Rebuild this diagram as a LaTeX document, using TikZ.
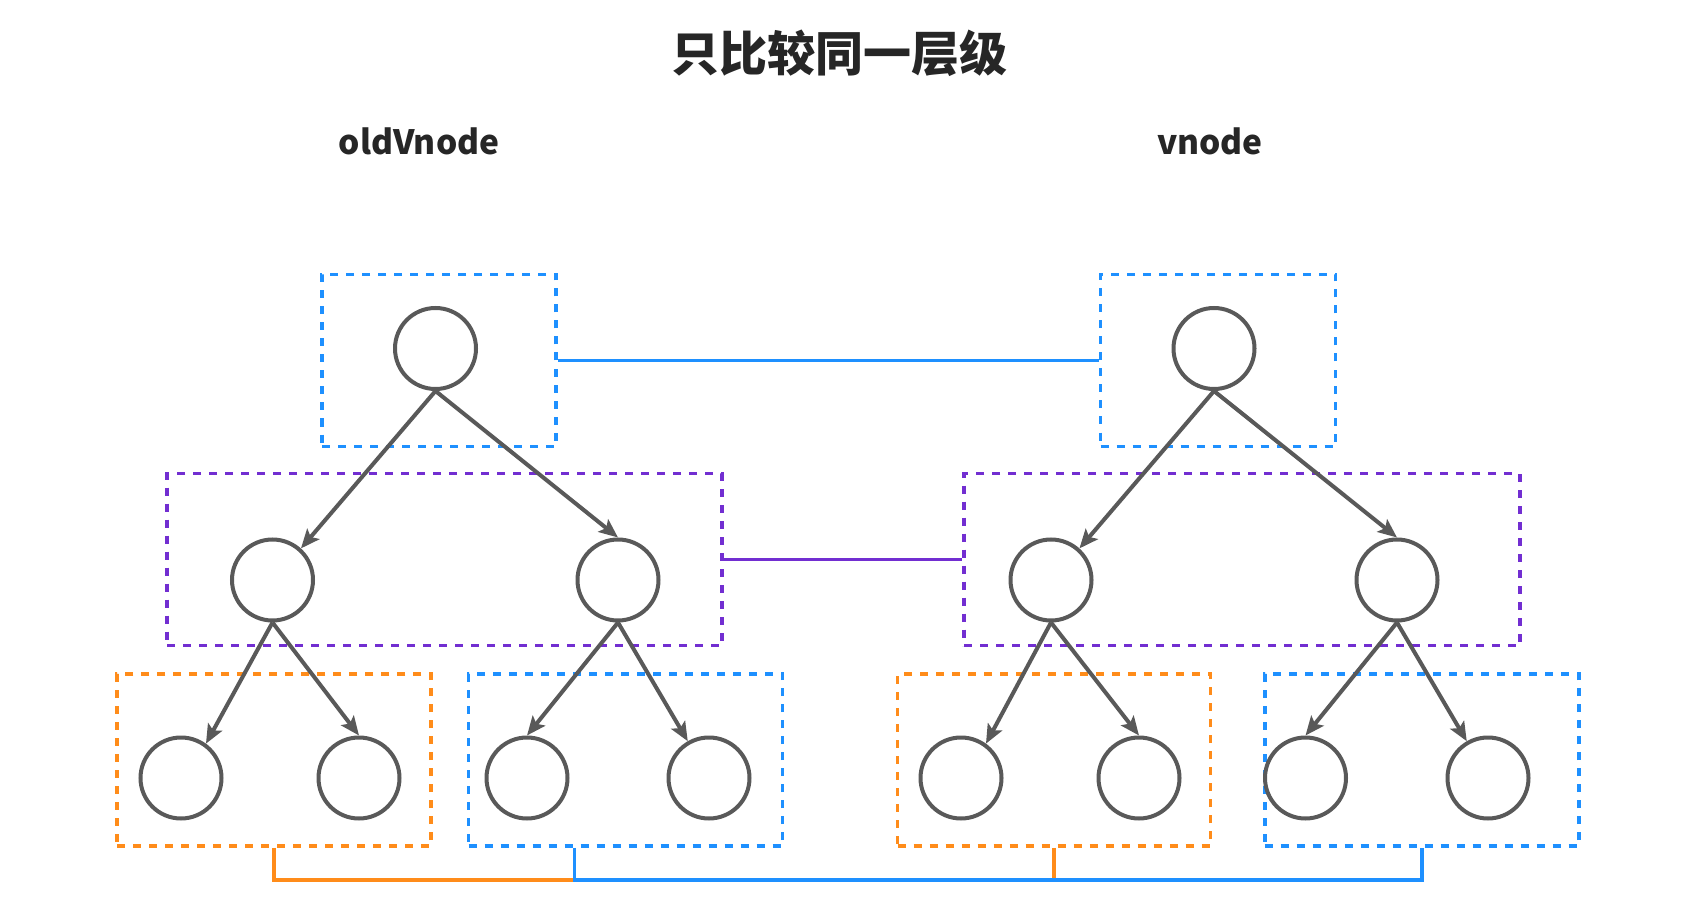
\documentclass[tikz,border=0pt]{standalone}
\usepackage{fontspec}
\newfontfamily\cjk{Noto Sans CJK SC}
\usetikzlibrary{arrows.meta,calc}
\definecolor{cblue}{RGB}{30,144,255}
\definecolor{cpurple}{RGB}{114,46,209}
\definecolor{corange}{RGB}{255,140,26}
\definecolor{cgray}{RGB}{89,89,89}
\definecolor{ctext}{RGB}{38,38,38}
\begin{document}
\begin{tikzpicture}[x=1pt,y=-1pt,
  treenode/.style={circle,draw=cgray,line width=4pt,minimum size=81pt,inner sep=0pt},
  grp/.style={rectangle,draw,line width=3.8pt,dash pattern=on 8pt off 8pt,minimum height=172pt,inner sep=0pt},
  topgrp/.style={grp,draw=cblue,minimum width=234pt},
  midgrp/.style={grp,draw=cpurple,minimum width=555pt},
  orgrp/.style={grp,draw=corange,minimum width=314pt},
  blgrp/.style={grp,draw=cblue,minimum width=314pt},
  link/.style={line width=3.8pt},
  arr/.style={draw=cgray,line width=4pt,-{Stealth[length=19pt,width=16pt,inset=4pt]}},
  label/.style={anchor=base,text=ctext,font=\cjk\bfseries\fontsize{33.5}{37}\selectfont},
  ]
\useasboundingbox (0,0) rectangle (1682,909);
\node[anchor=base,text=ctext,font=\cjk\bfseries\fontsize{48}{52}\selectfont] (title) at (839,72) {只比较同一层级};
\node[label] (lold) at (419,154.5) {oldVnode};
\node[label] (lnew) at (1210,154.5) {vnode};
% groups
\node[topgrp] (g1) at (439,360.5) {};
\node[topgrp,minimum width=235pt] (g2) at (1218,360.5) {};
\node[midgrp] (p1) at (444.5,559.5) {};
\node[midgrp,minimum width=556pt] (p2) at (1242,559.5) {};
\node[orgrp] (o1) at (274.3,760) {};
\node[blgrp] (q1) at (625.5,760) {};
\node[orgrp,minimum width=313pt] (o2) at (1054,760) {};
\node[blgrp] (q2) at (1421.7,760) {};
% tree nodes
\node[treenode] (r1) at (435.5,348.5) {};
\node[treenode] (r2) at (1214,348.5) {};
\node[treenode] (m1) at (272.5,580) {};
\node[treenode] (m2) at (618,580) {};
\node[treenode] (m3) at (1051,580) {};
\node[treenode] (m4) at (1397,580) {};
\node[treenode] (b1) at (181,778) {};
\node[treenode] (b2) at (359,778) {};
\node[treenode] (b3) at (527,778) {};
\node[treenode] (b4) at (709,778) {};
\node[treenode] (b5) at (961,778) {};
\node[treenode] (b6) at (1139,778) {};
\node[treenode] (b7) at (1305.5,778) {};
\node[treenode] (b8) at (1488,778) {};
% arrows
\draw[arr] (r1.south) -- (m1.48);
\draw[arr] (r1.south) -- (m2.north);
\draw[arr] (r2.south) -- (m3.48);
\draw[arr] (r2.south) -- (m4.north);
\draw[arr] (m1.south) -- (b1.54);
\draw[arr] (m1.south) -- (b2.north);
\draw[arr] (m2.south) -- (b3.north);
\draw[arr] (m2.south) -- (b4.120);
\draw[arr] (m3.south) -- (b5.54);
\draw[arr] (m3.south) -- (b6.north);
\draw[arr] (m4.south) -- (b7.north);
\draw[arr] (m4.south) -- (b8.120);
% level links
\draw[link,cblue] (g1.east) -- (g2.west);
\draw[link,cpurple] (p1.east) -- (p2.west);
\coordinate (bus) at (0,880);
\coordinate (qj) at ($(q1.south)+(-51,0)$);
\draw[link,corange] (o1.south) |- (qj |- bus);
\draw[link,corange] (o2.south) -- (o2.south |- bus);
\draw[link,cblue] (qj) |- (q2.south |- bus) -- (q2.south);
\end{tikzpicture}
\end{document}
